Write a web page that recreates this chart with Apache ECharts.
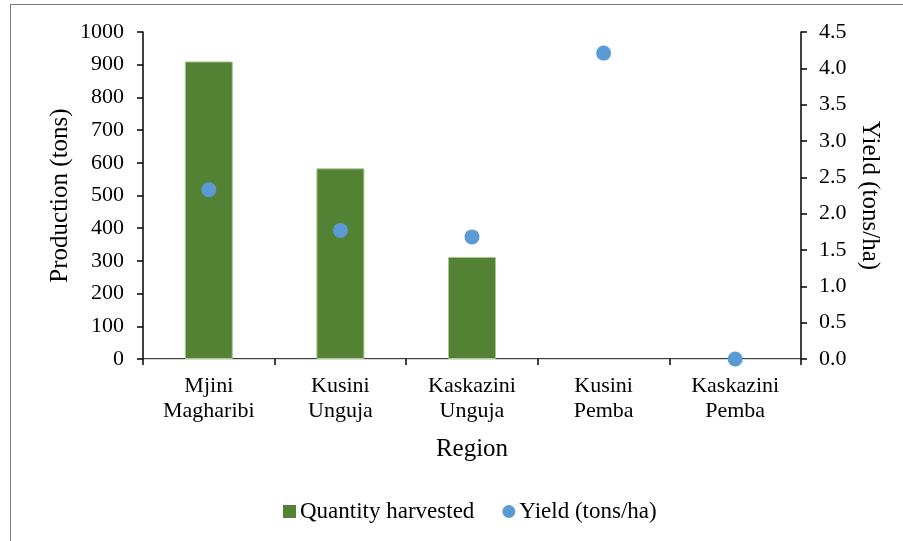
<!DOCTYPE html>
<html>
<head>
<meta charset="utf-8">
<script src="https://cdn.jsdelivr.net/npm/echarts@6/dist/echarts.min.js"></script>
<style>
  html, body { margin: 0; padding: 0; background: #fff; }
  #frame { position: absolute; left: 10px; top: 4px; width: 900px; height: 540px; border: 1.5px solid #7a7a7a; box-sizing: border-box; }
  #chart { width: 903px; height: 541px; position: absolute; left: 0; top: 0; }
</style>
</head>
<body>
<div id="frame"></div>
<div id="chart"></div>
<script>
// data
const regions = ["Mjini\nMagharibi", "Kusini\nUnguja", "Kaskazini\nUnguja", "Kusini\nPemba", "Kaskazini\nPemba"];
const quantity = [910, 583, 312, 0, 0];
const yieldVals = [2.33, 1.77, 1.68, 4.21, 0];

const myChart = echarts.init(document.getElementById("chart"));
const font = "Liberation Serif";
const black = "#000";

// zero bars get no outline so nothing shows on the axis
const barData = quantity.map(function (v) {
  return v === 0 ? { value: v, itemStyle: { borderWidth: 0 } } : v;
});

const option = {
  textStyle: { fontFamily: font },
  animation: false,
  grid: { left: 143, right: 102, top: 32, bottom: 182 },
  legend: {
    top: 495,
    left: 278,
    itemGap: 28,
    itemWidth: 13,
    itemHeight: 13,
    itemStyle: { borderWidth: 0 },
    textStyle: { fontFamily: font, fontSize: 23, color: black, padding: [0, 0, 0, -1] },
    data: [
      { name: "Quantity harvested", icon: "rect" },
      { name: "Yield (tons/ha)", icon: "circle" }
    ]
  },
  xAxis: [
    {
      type: "category",
      data: regions,
      name: "Region",
      nameLocation: "middle",
      nameGap: 78,
      nameMoveOverlap: false,
      nameTextStyle: { fontFamily: font, fontSize: 25, color: black },
      axisLine: { lineStyle: { color: black, width: 1.5 } },
      axisTick: { show: true, length: 6, lineStyle: { color: black, width: 1.5 } },
      axisLabel: { fontFamily: font, fontSize: 22, color: black, lineHeight: 25, margin: 15 }
    },
    {
      // faint top border of the plot area
      type: "category",
      position: "top",
      data: regions,
      axisLine: { lineStyle: { color: "#d9d9d9", width: 1 } },
      axisTick: { show: false },
      axisLabel: { show: false }
    }
  ],
  yAxis: [
    {
      type: "value",
      min: 0,
      max: 1000,
      interval: 100,
      name: "Production (tons)",
      nameLocation: "middle",
      nameGap: 70,
      nameMoveOverlap: false,
      nameTextStyle: { fontFamily: font, fontSize: 25, color: black },
      axisLine: { show: true, lineStyle: { color: black, width: 1.5 } },
      axisTick: { show: true, length: 6, lineStyle: { color: black, width: 1.5 } },
      axisLabel: { fontFamily: font, fontSize: 22, color: black, margin: 19,
        formatter: function (v) { return String(v); } },
      splitLine: { show: false }
    },
    {
      type: "value",
      min: 0,
      max: 4.5,
      interval: 0.5,
      name: "Yield (tons/ha)",
      nameLocation: "middle",
      nameGap: 56,
      nameMoveOverlap: false,
      nameRotate: -90,
      nameTextStyle: { fontFamily: font, fontSize: 25, color: black },
      axisLine: { show: true, lineStyle: { color: black, width: 1.5 } },
      axisTick: { show: true, length: 6, lineStyle: { color: black, width: 1.5 } },
      axisLabel: { fontFamily: font, fontSize: 22, color: black, margin: 18,
        formatter: function (v) { return v.toFixed(1); } },
      splitLine: { show: false }
    }
  ],
  series: [
    {
      name: "Quantity harvested",
      type: "bar",
      data: barData,
      barWidth: 48,
      itemStyle: { color: "#548235", borderColor: "#a9c98f", borderWidth: 1 }
    },
    {
      name: "Yield (tons/ha)",
      type: "scatter",
      yAxisIndex: 1,
      data: yieldVals,
      symbolSize: 15,
      itemStyle: { color: "#5b9bd5", opacity: 1 }
    }
  ]
};

option && myChart.setOption(option);
</script>
</body>
</html>
